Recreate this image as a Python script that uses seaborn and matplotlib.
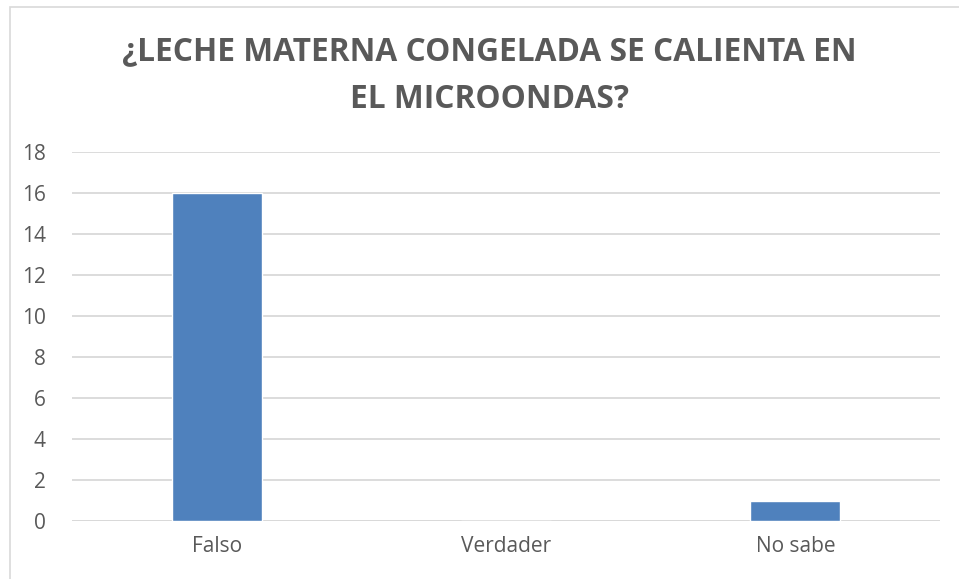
import pandas as pd
import seaborn as sns
import matplotlib.pyplot as plt
from matplotlib.patches import Rectangle

categorias = ["Falso", "Verdader", "No sabe"]
valores = [16, 0, 1]
y_ticks = [0, 2, 4, 6, 8, 10, 12, 14, 16, 18]

df = pd.DataFrame({"respuesta": categorias, "n": valores})

sns.set_style("white")
plt.rcParams['font.family'] = ['Open Sans', 'DejaVu Sans']

fig = plt.figure(figsize=(9.59, 5.79), dpi=100)
ax = fig.add_axes([72/959, 1-521/579, 868/959, 369/579])

sns.barplot(data=df, x="respuesta", y="n", color="#4F81BD", width=0.31,
            saturation=1, ax=ax, zorder=3)

ax.set_ylim(0, 18)
ax.set_yticks(y_ticks)
ax.yaxis.grid(True, color="#D9D9D9", linewidth=1.3, zorder=0)
for s in ax.spines.values():
    s.set_visible(False)
ax.axhline(0, color="#D9D9D9", linewidth=1.3, zorder=1)
ax.tick_params(axis="both", length=0, labelsize=15, labelcolor="#595959")
ax.tick_params(axis="y", pad=19)
ax.tick_params(axis="x", pad=11)
ax.set_xlabel("")
ax.set_ylabel("")

title_x = 489 / 959
fig.text(title_x, 1-52/579, "¿LECHE MATERNA CONGELADA SE CALIENTA EN",
         ha="center", va="center", fontsize=22.8, fontweight="bold",
         color="#595959")
fig.text(title_x, 1-100/579, "EL MICROONDAS?",
         ha="center", va="center", fontsize=22.8, fontweight="bold",
         color="#595959")

fig.patches.append(Rectangle((10/959, -0.01), 1.0, 1-7/579 + 0.01,
                             transform=fig.transFigure, fill=False,
                             edgecolor="#D9D9D9", linewidth=1.2))

fig.savefig("out.png", dpi=100)
